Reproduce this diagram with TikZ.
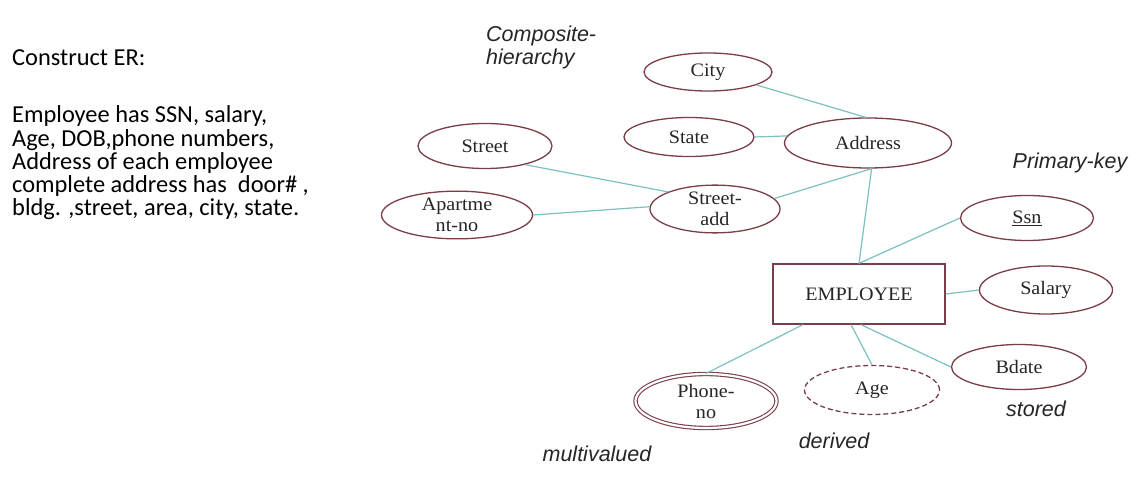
\documentclass[tikz,border=0pt]{standalone}
\usepackage{fontspec}
\setmainfont[FakeStretch=1.06]{Liberation Serif}
\newfontfamily\bodyfont{Carlito}
\newfontfamily\notefont{Liberation Sans}
\usetikzlibrary{shapes.geometric}
\definecolor{edgec}{RGB}{122,62,72}
\definecolor{linec}{RGB}{125,192,192}
\definecolor{txt}{RGB}{38,38,38}
\tikzset{
  attr/.style={ellipse, draw=edgec, line width=1.3pt, inner sep=0pt, text=txt,
     font=\fontsize{19}{21}\selectfont, align=center},
  ent/.style={rectangle, draw=edgec, line width=1.3pt, inner sep=0pt, text=txt,
     font=\fontsize{19}{21}\selectfont},
  conn/.style={draw=linec, line width=1.2pt},
  note/.style={font=\notefont\itshape\fontsize{21.5}{23}\selectfont, text=txt, inner sep=0pt, align=left},
  body/.style={font=\bodyfont\fontsize{24.4}{23.3}\selectfont, text=black, inner sep=0pt, align=left, anchor=base west}
}
\begin{document}
\begin{tikzpicture}[x=1pt,y=-1pt]
\useasboundingbox (0,0) rectangle (1140,486);
\fill[white] (0,0) rectangle (1140,486);

\node[body] (task) at (12,216) {Construct ER:\\[33.5pt]Employee has SSN, salary,\\Age, DOB,phone numbers,\\Address of each employee\\complete address has \ door\# ,\\bldg. ,street, area, city, state.};

\node[attr, minimum width=128pt, minimum height=38pt] (city) at (708,72) {City};
\node[attr, minimum width=130pt, minimum height=39pt] (state) at (689,137) {State};
\node[attr, minimum width=167pt, minimum height=50pt] (addr) at (868,143) {Address};
\node[attr, minimum width=134pt, minimum height=45pt] (street) at (485,146) {Street};
\node[attr, minimum width=151pt, minimum height=42pt] (apt) at (457,215) {Apartme\\nt-no};
\node[attr, minimum width=130pt, minimum height=45pt] (sadd) at (715,209) {Street-\\add};
\node[attr, minimum width=133pt, minimum height=45pt] (ssn) at (1027,218) {\underline{Ssn}};
\node[ent, minimum width=172pt, minimum height=60pt] (emp) at (859,294) {EMPLOYEE};
\node[attr, minimum width=133pt, minimum height=48pt] (sal) at (1046,290) {Salary};
\node[attr, minimum width=135pt, minimum height=45pt] (bdate) at (1019,367) {Bdate};
\node[attr, double, double distance=2.2pt, line width=1.1pt, minimum width=141pt, minimum height=54pt] (phone) at (706,401) {Phone-\\no};
\node[attr, dashed, dash pattern=on 5pt off 3pt, minimum width=135pt, minimum height=49pt] (age) at (872,390) {Age};

\node[note, anchor=base west] (comp) at (486,65) {Composite-\\hierarchy};
\node[note] (pk) at (1070,163) {Primary-key};
\node[note] (stored) at (1036,409) {stored};
\node[note] (derived) at (834,441) {derived};
\node[note] (multi) at (597,454) {multivalued};

\draw[conn] (city.-15) -- (addr.95);
\draw[conn] (state.east) -- (addr.175);
\draw[conn] (street.-25) -- (sadd.160);
\draw[conn] (apt.east) -- (sadd.178);
\draw[conn] (sadd.10) -- (addr.-82);
\draw[conn] (addr.-82) -- (emp.north);
\draw[conn] (ssn.west) -- (emp.north);
\draw[conn] (emp.east) -- (sal.west);
\draw[conn] ([xshift=-56pt]emp.south) -- (phone.north);
\draw[conn] ([xshift=-8pt]emp.south) -- (age.north);
\draw[conn] ([xshift=2pt]emp.south) -- (bdate.west);
\end{tikzpicture}
\end{document}
